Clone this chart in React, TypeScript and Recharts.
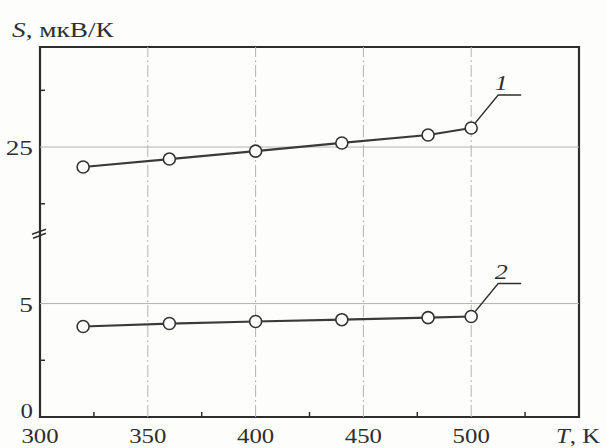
import React from "react";
import {
  LineChart,
  Line,
  XAxis,
  YAxis,
  ReferenceLine,
  ReferenceArea,
  LabelList,
} from "recharts";

// temperature, K
const temps = [320, 360, 400, 440, 480, 500];
// Seebeck coefficient, µV/K (curve 1 sits above the axis break)
const curve1 = [24.12, 24.47, 24.82, 25.18, 25.53, 25.84];
const curve2 = [3.99, 4.12, 4.21, 4.29, 4.38, 4.43];

const xTicks = [300, 325, 350, 375, 400, 425, 450, 475, 500, 525, 550];
const xGrid = [350, 400, 450, 500];
const yMajor = [0, 5, 25];
const yMinor = [2.5, 22.5, 27.5];

// axis break: values above BREAK are shifted down by GAP
const GAP = 13.1;
const BREAK = 8.1;
const YTOP = 16.31;
const toAxis = (v: number) => (v > 15 ? v - GAP : v);

const data = temps.map((t, i) => ({ t, s1: toAxis(curve1[i]), s2: curve2[i] }));

const FONT = '"Liberation Serif", "Times New Roman", serif';
const INK = "#2e2e2e";
const GRID = "#b4b4b4";

function SText({ x, y, anchor = "middle", size = 22, italic = false, children }: any) {
  return (
    <g transform={`translate(${x},${y}) scale(1.24,1)`}>
      <text
        x={0}
        y={0}
        textAnchor={anchor}
        fontFamily={FONT}
        fontSize={size}
        fontStyle={italic ? "italic" : "normal"}
        fill={INK}
      >
        {children}
      </text>
    </g>
  );
}

function XTick({ x, y, payload }: any) {
  const v = payload.value;
  if (v === 550) {
    return (
      <SText x={x - 1} y={y + 26} size={20}>
        <tspan fontStyle="italic">T</tspan>, K
      </SText>
    );
  }
  if (v % 50 !== 0) {
    return <line x1={x} y1={y} x2={x} y2={y - 5} stroke={INK} strokeWidth={1.5} />;
  }
  return (
    <SText x={x} y={y + 26} size={20}>
      {v}
    </SText>
  );
}

function YTick({ x, y, payload }: any) {
  const v = payload.value;
  if (Math.abs(v - BREAK) < 1e-6) {
    return (
      <g stroke={INK} strokeWidth={1.5}>
        <line x1={x - 8} y1={y + 1} x2={x + 6} y2={y - 4} />
        <line x1={x - 7} y1={y + 5} x2={x + 6} y2={y} />
      </g>
    );
  }
  const real = Math.round((v > BREAK ? v + GAP : v) * 10) / 10;
  if (yMajor.includes(real)) {
    return (
      <SText x={x - 7} y={real === 0 ? y + 1 : y + 8} anchor="end" size={real === 0 ? 20 : 22}>
        {real}
      </SText>
    );
  }
  return <line x1={x} y1={y} x2={x + 5} y2={y} stroke={INK} strokeWidth={1.5} />;
}

function Leader({ x, y, index, tag }: any) {
  if (index !== temps.length - 1) return null;
  return (
    <g>
      <polyline
        points={`${x + 4},${y - 5} ${x + 27},${y - 33} ${x + 50},${y - 33}`}
        fill="none"
        stroke={INK}
        strokeWidth={1.3}
      />
      <SText x={x + 30} y={y - 38} size={21} italic>
        {tag}
      </SText>
    </g>
  );
}

function YTitle() {
  return (
    <SText x={12} y={37} anchor="start">
      <tspan fontStyle="italic">S</tspan>, мкВ/К
    </SText>
  );
}

export default function App() {
  const yTicks = [0, ...yMinor.map(toAxis), 5, BREAK, toAxis(25)].sort((a, b) => a - b);
  return (
    <div style={{ position: "absolute", left: 0, top: 0, width: 607, height: 448, background: "#fdfdfb" }}>
      <LineChart width={607} height={448} data={data} margin={{ top: 47, right: 28, bottom: 0, left: 0 }}>
        {xGrid.map((g) => (
          <ReferenceLine key={g} x={g} stroke={GRID} strokeWidth={1} strokeDasharray="12 3 2 3" />
        ))}
        <ReferenceLine y={5} stroke={GRID} strokeWidth={1} />
        <ReferenceLine y={toAxis(25)} stroke={GRID} strokeWidth={1} />
        <ReferenceArea x1={300} x2={550} y1={0} y2={YTOP} fill="none" stroke={INK} strokeWidth={2.2} />
        <XAxis
          dataKey="t"
          type="number"
          domain={[300, 550]}
          ticks={xTicks}
          height={31}
          tickSize={0}
          tickMargin={0}
          axisLine={false}
          tickLine={false}
          tick={<XTick />}
          interval={0}
        />
        <YAxis
          type="number"
          domain={[0, YTOP]}
          ticks={yTicks}
          width={40}
          tickSize={0}
          tickMargin={0}
          axisLine={false}
          tickLine={false}
          tick={<YTick />}
          interval={0}
          allowDataOverflow
          label={<YTitle />}
        />
        <Line
          dataKey="s1"
          stroke="#3a3a3a"
          strokeWidth={2.2}
          dot={{ r: 6, stroke: "#333", strokeWidth: 1.6, fill: "#fff" }}
          isAnimationActive={false}
        >
          <LabelList dataKey="s1" content={(p: any) => <Leader {...p} tag="1" />} />
        </Line>
        <Line
          dataKey="s2"
          stroke="#3a3a3a"
          strokeWidth={2.2}
          dot={{ r: 6, stroke: "#333", strokeWidth: 1.6, fill: "#fff" }}
          isAnimationActive={false}
        >
          <LabelList dataKey="s2" content={(p: any) => <Leader {...p} tag="2" />} />
        </Line>
      </LineChart>
    </div>
  );
}
